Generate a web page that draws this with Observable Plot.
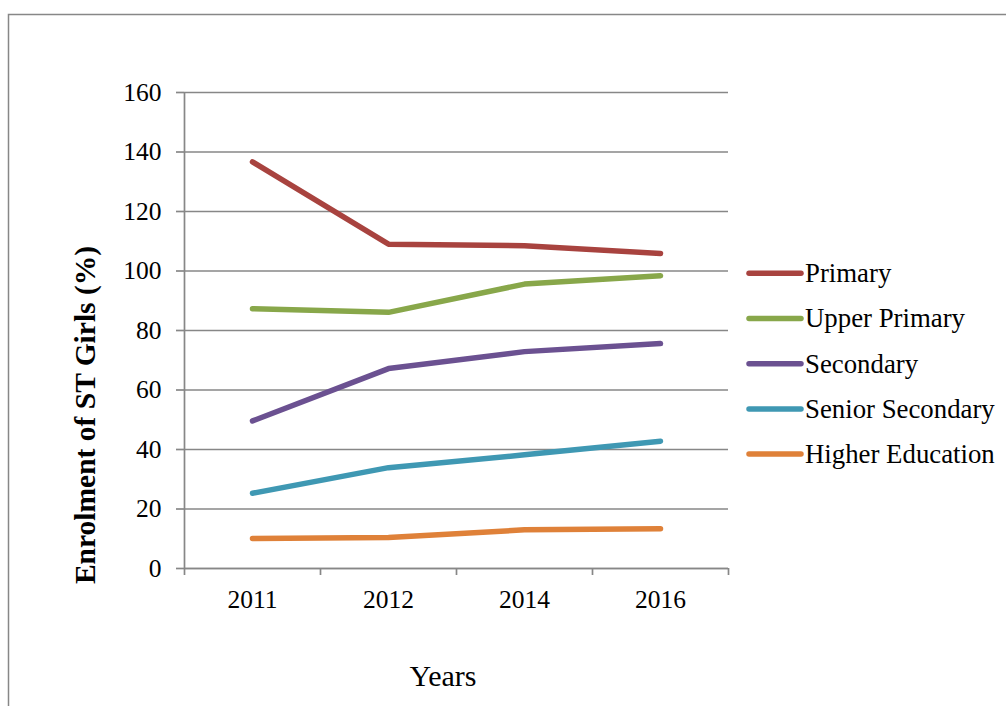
<!DOCTYPE html>
<html>
<head>
<meta charset="utf-8">
<script src="https://cdn.jsdelivr.net/npm/d3@7"></script>
<script src="https://cdn.jsdelivr.net/npm/@observablehq/plot@0.6"></script>
<style>
  html, body { margin: 0; padding: 0; background: #fff; overflow: hidden; }
  #chart { position: relative; width: 1006px; height: 706px; font-family: "Liberation Serif", serif; }
  #chart > svg { position: absolute; left: 0; top: 0; }
  #chart text { font-family: "Liberation Serif", serif; }
</style>
</head>
<body>
<div id="chart"></div>
<script>
// Enrolment of ST girls by level of education (%)
const years = ["2011", "2012", "2014", "2016"];
const primary = [136.7, 109.0, 108.5, 105.9];
const upperPrimary = [87.3, 86.1, 95.6, 98.4];
const secondary = [49.6, 67.2, 72.9, 75.6];
const seniorSecondary = [25.3, 33.9, 38.2, 42.8];
const higherEducation = [10.1, 10.4, 13.0, 13.4];

const seriesNames = ["Primary", "Upper Primary", "Secondary", "Senior Secondary", "Higher Education"];
const seriesValues = [primary, upperPrimary, secondary, seniorSecondary, higherEducation];
const seriesColors = ["#A8433F", "#88A74A", "#6B5191", "#3F98B3", "#DF8139"];
const yTicks = [0, 20, 40, 60, 80, 100, 120, 140, 160];

const rows = seriesNames.flatMap((name, s) =>
  seriesValues[s].map((v, i) => ({ series: name, i, value: v }))
);

const font = "Liberation Serif";
const gray = "#878787";

// category index positions; band edges sit half a step either side
const edges = d3.range(years.length + 1).map(k => k - 0.5);

const chart = Plot.plot({
  width: 1006,
  height: 706,
  marginLeft: 184,
  marginRight: 278,
  marginTop: 92,
  marginBottom: 138,
  style: { fontFamily: font, color: "#000", background: "transparent" },
  x: { domain: [-0.5, years.length - 0.5] },
  y: { domain: [0, 160] },
  color: { domain: seriesNames, range: seriesColors },
  marks: [
    Plot.gridY(yTicks, { stroke: gray, strokeOpacity: 1, strokeWidth: 1.7 }),
    Plot.ruleX([-0.5], { stroke: gray, strokeWidth: 1.7 }),
    Plot.ruleY([0], { stroke: gray, strokeWidth: 1.7 }),
    Plot.axisY({ ticks: yTicks, tickSize: 8, tickPadding: 15, stroke: gray, strokeWidth: 1.7, fill: "#000", fontSize: 25.5, label: null }),
    Plot.axisX({ ticks: edges, tickSize: 7, tickFormat: () => "", stroke: gray, strokeWidth: 1.7, label: null }),
    Plot.axisX({ ticks: d3.range(years.length), tickSize: 0, tickPadding: 21, tickFormat: i => years[i], fill: "#000", fontSize: 25.5, label: null }),
    Plot.line(rows, { x: "i", y: "value", z: "series", stroke: "series", strokeWidth: 5.5, strokeLinecap: "round", strokeLinejoin: "round" })
  ]
});

const host = document.getElementById("chart");
host.appendChild(chart);

// Frame, axis titles and legend drawn on an overlay
const deco = d3.select(host).append("svg")
  .attr("width", 1006).attr("height", 706)
  .attr("font-family", font);

deco.append("rect")
  .attr("x", 8.5).attr("y", 14.5)
  .attr("width", 1100).attr("height", 800)
  .attr("fill", "none").attr("stroke", gray).attr("stroke-width", 1.5);

deco.append("text")
  .attr("transform", "translate(95,415) rotate(-90)")
  .attr("text-anchor", "middle")
  .attr("font-family", font)
  .attr("font-weight", "bold")
  .attr("font-size", 29.5)
  .text("Enrolment of ST Girls (%)");

deco.append("text")
  .attr("x", 443).attr("y", 686)
  .attr("text-anchor", "middle")
  .attr("font-family", font)
  .attr("font-size", 30)
  .text("Years");

const legend = deco.append("g");
seriesNames.forEach((name, k) => {
  const y = 273.3 + k * 45.2;
  legend.append("line")
    .attr("x1", 749).attr("x2", 801).attr("y1", y).attr("y2", y)
    .attr("stroke", seriesColors[k]).attr("stroke-width", 5.5).attr("stroke-linecap", "round");
  legend.append("text")
    .attr("x", 805).attr("y", y + 8.8)
    .attr("font-family", font)
    .attr("font-size", 26.8)
    .text(name);
});
</script>
</body>
</html>
